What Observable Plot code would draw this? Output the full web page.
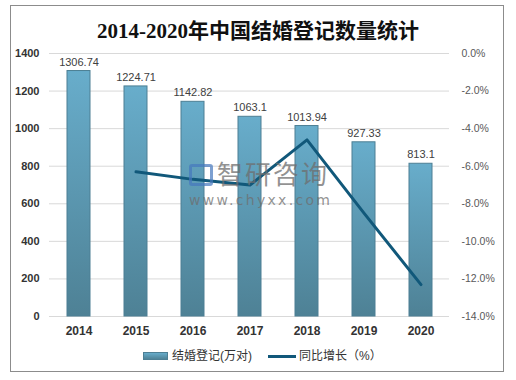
<!DOCTYPE html>
<html>
<head>
<meta charset="utf-8">
<script src="https://cdn.jsdelivr.net/npm/d3@7"></script>
<script src="https://cdn.jsdelivr.net/npm/@observablehq/plot@0.6"></script>
<style>
  html, body { margin: 0; padding: 0; background: #fff; }
  #wrap { position: relative; width: 516px; height: 380px; overflow: hidden; font-family: "Liberation Sans", "Noto Sans CJK SC", sans-serif; }
  #frame { position: absolute; left: 10px; top: 5px; width: 494px; height: 367px; border: 1px solid #8c8c8c; box-sizing: border-box; }
  #title { position: absolute; left: 0; width: 516px; top: 16px; text-align: center; font-family: "Liberation Serif", "Noto Sans CJK SC", serif; font-size: 21px; font-weight: bold; color: #111; line-height: 30px; }
  #chart { position: absolute; left: 0; top: 40px; }
  #legend { position: absolute; top: 347px; left: 0; width: 516px; height: 18px; font-size: 12px; color: #333; }
  .lg { position: absolute; top: 0; line-height: 18px; white-space: nowrap; }
  #wm { position: absolute; left: 189px; top: 160px; color: rgba(110,110,110,0.75); pointer-events: none; }
</style>
</head>
<body>
<div id="wrap">
  <div id="frame"></div>
  <div id="title">2014-2020年中国结婚登记数量统计</div>
  <div id="chart"></div>
  <div id="wm">
    <div style="position:absolute;left:0;top:4px;width:24px;height:22px;border:3px solid rgba(70,120,190,0.7);border-radius:3px;box-sizing:border-box;"></div>
    <div style="position:absolute;left:28px;top:-4px;font-family:'Noto Sans CJK SC';font-size:26px;font-weight:400;letter-spacing:2px;white-space:nowrap;line-height:34px;">智研咨询</div>
    <div style="position:absolute;left:0;top:32px;font-family:'DejaVu Sans';font-size:14px;letter-spacing:2.3px;white-space:nowrap;">www.chyxx.com</div>
  </div>
  <div id="legend">
    <div class="lg" style="left:143px;top:5px;width:25px;height:8px;background:linear-gradient(#67acca,#4f8397);border:1px solid #4d7f94;box-sizing:border-box;"></div>
    <div class="lg" style="left:172px;">结婚登记(万对)</div>
    <div class="lg" style="left:268px;top:8px;width:28px;height:3px;background:#11587a;"></div>
    <div class="lg" style="left:299px;">同比增长（%）</div>
  </div>
</div>
<script>
const years = ["2014", "2015", "2016", "2017", "2018", "2019", "2020"];
const marriages = [1306.74, 1224.71, 1142.82, 1063.1, 1013.94, 927.33, 813.1];
const growth = [null, -6.3, -6.7, -7.0, -4.6, -8.5, -12.3];
const leftTicks = [0, 200, 400, 600, 800, 1000, 1200, 1400];
const rightTicks = [0, -2, -4, -6, -8, -10, -12, -14];

const rows = years.map((y, i) => ({year: y, value: marriages[i], growth: growth[i]}));
// map the right axis (-14%..0%) onto the left scale (0..1400)
const toLeft = g => (g + 14) * 100;

const defs = () => {
  const d = d3.create("svg:defs");
  const g = d.append("linearGradient").attr("id", "barGrad").attr("x1", 0).attr("y1", 0).attr("x2", 0).attr("y2", 1);
  g.append("stop").attr("offset", "0%").attr("stop-color", "#68adcb");
  g.append("stop").attr("offset", "100%").attr("stop-color", "#4e8195");
  return d.node();
};

const chart = Plot.plot({
  width: 516,
  height: 310,
  marginLeft: 49,
  marginRight: 67,
  marginTop: 13,
  marginBottom: 34,
  style: {fontFamily: "'Liberation Sans', 'Noto Sans CJK SC', sans-serif", background: "transparent", overflow: "visible"},
  x: {domain: years, paddingInner: 0.6, paddingOuter: 0.3},
  y: {domain: [0, 1400]},
  marks: [
    defs,
    Plot.ruleY(leftTicks, {stroke: "#d9d9d9", strokeWidth: 1}),
    Plot.barY(rows, {x: "year", y: "value", fill: "url(#barGrad)", stroke: "#4d7f94", strokeWidth: 1}),
    Plot.text(rows, {x: "year", y: "value", text: d => String(d.value), dy: -9, fill: "#404040", fontSize: 11}),
    Plot.line(rows.filter(d => d.growth != null), {x: "year", y: d => toLeft(d.growth), stroke: "#11587a", strokeWidth: 3}),
    Plot.axisX({tickSize: 0, tickPadding: 10, fontSize: 12, fontWeight: "bold", color: "#333", label: null}),
    Plot.axisY(leftTicks, {anchor: "left", tickSize: 0, tickPadding: 10, fontSize: 11, fontWeight: "bold", color: "#333", label: null, tickFormat: v => String(v)}),
    Plot.axisY(rightTicks.map(toLeft), {anchor: "right", tickSize: 0, tickPadding: 12, fontSize: 10.5, color: "#595959", label: null, textAnchor: "start",
      tickFormat: v => (v / 100 - 14).toFixed(1) + "%"})
  ]
});
document.getElementById("chart").appendChild(chart);
</script>
</body>
</html>
